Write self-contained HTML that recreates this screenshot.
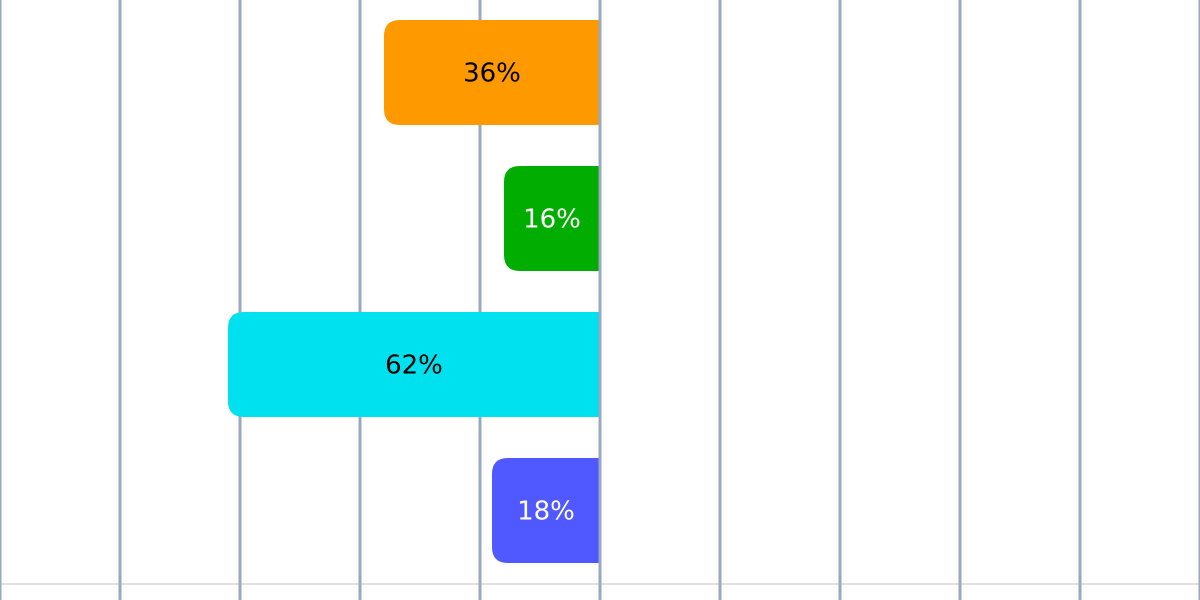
<!DOCTYPE html>
<html><head><meta charset="utf-8"><style>
html,body{margin:0;padding:0;background:#fff;width:1200px;height:600px;overflow:hidden}
svg{display:block}
text{font-family:"DejaVu Sans","Liberation Sans",sans-serif;font-size:26px}
</style></head><body>
<svg id="chart" width="1200" height="600">
<g id="grid"></g>
<g id="bars"></g>
<g id="lines"></g>
</svg>
<script>
const categories = ["A","B","C","D"];
const values = [36,16,62,18];
const colors = ["#ff9900","#00ad00","#00e1ef","#5059ff"];
const labelColors = ["#000","#fff","#000","#fff"];
const ticks = [-100,-80,-60,-40,-20,0,20,40,60,80,100];

const NS="http://www.w3.org/2000/svg";
const x = v => 600 + v*6;
const bandTop = i => 20 + i*146;
const bandH = 105;
const grid=document.getElementById('grid'), bars=document.getElementById('bars'), lines=document.getElementById('lines');

const h=document.createElementNS(NS,'line');
h.setAttribute('x1',0);h.setAttribute('x2',1200);h.setAttribute('y1',584);h.setAttribute('y2',584);
h.setAttribute('stroke','#e0e0e0');h.setAttribute('stroke-width',2);


grid.appendChild(h);

ticks.forEach(t=>{
  const l=document.createElementNS(NS,'line');
  const px=Math.min(Math.max(x(t),0),1200);
  l.setAttribute('x1',px);l.setAttribute('x2',px);l.setAttribute('y1',0);l.setAttribute('y2',600);
  l.setAttribute('stroke','#97a8c0');l.setAttribute('stroke-width',3);
  
  
  (t===0 ? lines : grid).appendChild(l);
});

values.forEach((v,i)=>{
  const x0=x(-v), w=x(0)-x0, y=bandTop(i), r=16;
  const p=document.createElementNS(NS,'path');
  p.setAttribute('d',`M${x0+w},${y} H${x0+r} Q${x0},${y} ${x0},${y+r} V${y+bandH-r} Q${x0},${y+bandH} ${x0+r},${y+bandH} H${x0+w} Z`);
  p.setAttribute('fill',colors[i]);
  
  
  bars.appendChild(p);
  const t=document.createElementNS(NS,'text');
  t.setAttribute('x',x0+w/2);t.setAttribute('y',y+bandH/2+9);
  t.setAttribute('text-anchor','middle');t.setAttribute('fill',labelColors[i]);
  t.textContent=v+'%';
  
  
  bars.appendChild(t);
});
</script>
</body></html>
